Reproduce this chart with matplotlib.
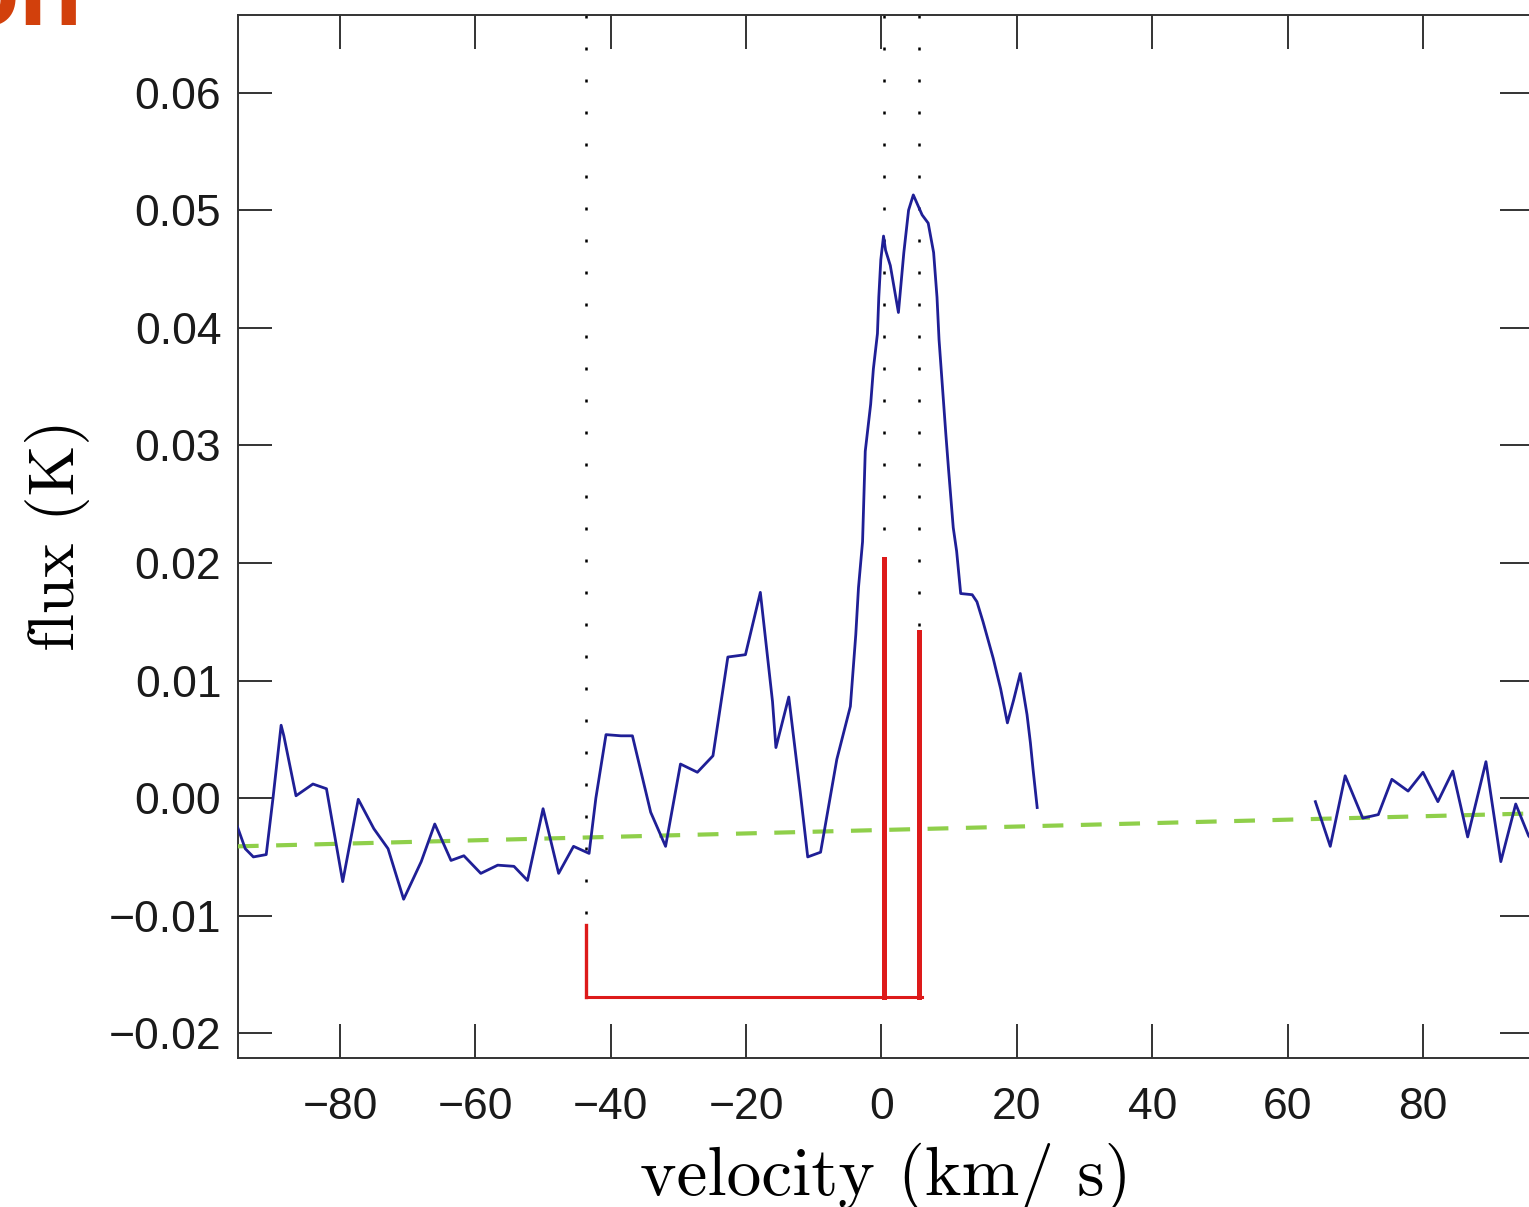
import numpy as np
from matplotlib import pyplot as plt

# spectrum, left part (velocity in km/s, flux in K)
vel_a = [-95.3, -94.0, -92.8, -90.9, -89.9, -88.7, -88.3, -86.5, -84.0, -82.0,
         -79.6, -77.3, -75.0, -72.9, -70.6, -68.0, -66.0, -63.6, -61.7, -59.2,
         -56.7, -54.3, -52.3, -50.0, -47.7, -45.5, -43.2, -42.2, -40.7, -38.5,
         -36.8, -34.1, -31.9, -29.7, -27.2, -24.9, -22.7, -20.1, -17.9, -16.1,
         -15.6, -13.7, -12.0, -10.9, -9.0, -6.6, -4.6, -3.8, -3.4, -2.8,
         -2.4, -1.6, -1.2, -0.6, -0.4, -0.1, 0.3, 0.6, 1.3, 2.5,
         3.3, 4.0, 4.7, 6.0, 6.9, 7.7, 8.2, 8.5, 9.0, 9.5,
         9.9, 10.6, 11.1, 11.7, 13.4, 14.1, 15.0, 16.5, 17.6, 18.6,
         19.5, 20.5, 21.5, 22.0, 22.4, 23.0]
flux_a = [-0.0022, -0.0043, -0.0050, -0.0048, 0.0000, 0.0062, 0.0053, 0.0002, 0.0012, 0.0008,
          -0.0071, -0.0001, -0.0026, -0.0043, -0.0086, -0.0054, -0.0022, -0.0053, -0.0049, -0.0064,
          -0.0057, -0.0058, -0.0070, -0.0009, -0.0064, -0.0041, -0.0047, 0.0000, 0.0054, 0.0053,
          0.0053, -0.0012, -0.0041, 0.0029, 0.0022, 0.0036, 0.0120, 0.0122, 0.0175, 0.0082,
          0.0043, 0.0086, 0.0005, -0.0050, -0.0046, 0.0033, 0.0078, 0.0139, 0.0179, 0.0218,
          0.0295, 0.0335, 0.0365, 0.0395, 0.0426, 0.0458, 0.0478, 0.0466, 0.0453, 0.0413,
          0.0464, 0.0500, 0.0513, 0.0496, 0.0489, 0.0464, 0.0426, 0.0390, 0.0350, 0.0310,
          0.0280, 0.0230, 0.0210, 0.0174, 0.0173, 0.0167, 0.0150, 0.0119, 0.0093, 0.0064,
          0.0083, 0.0106, 0.0071, 0.0047, 0.0024, -0.0008]

# spectrum, right part
vel_b = [64.1, 66.3, 68.5, 71.1, 73.4, 75.4, 77.8, 80.0, 82.2, 84.4,
         86.6, 89.3, 91.5, 93.7, 95.6, 97.5]
flux_b = [-0.0003, -0.0041, 0.0019, -0.0017, -0.0014, 0.0016, 0.0006, 0.0022, -0.0003, 0.0023,
          -0.0033, 0.0031, -0.0054, -0.0005, -0.0032, -0.0045]

# baseline
base_vel = [-95.1, 96.4]
base_flux = [-0.0041, -0.0013]

# line markers
line_vel = [-43.65, 0.3, 5.54]
line_top = [-0.0108, 0.0203, 0.0141]
line_bottom = -0.0169

xticks = [-80, -60, -40, -20, 0, 20, 40, 60, 80]
yticks = [-0.02, -0.01, 0.00, 0.01, 0.02, 0.03, 0.04, 0.05, 0.06]

fig = plt.figure(figsize=(15.29, 12.07), dpi=100)
ax = fig.add_axes([238 / 1529, 1 - 1058 / 1207, 1296 / 1529, 1043 / 1207])

ax.plot(base_vel, base_flux, color='#8fcf4a', lw=3.0, linestyle=(0, (5, 4.2)), zorder=3)
ax.plot(vel_a, flux_a, color='#1f1f96', lw=2.0, zorder=4)
ax.plot(vel_b, flux_b, color='#1f1f96', lw=2.0, zorder=4)

ymax = 0.0666
for v, top in zip(line_vel, line_top):
    ax.plot([v, v], [ymax, top], color='black', lw=1.8, linestyle=(0, (1.2, 11.6)), zorder=2)
ax.plot([line_vel[0], line_vel[0]], [line_bottom, line_top[0]], color='#dd1a1a', lw=2.4, zorder=5)
for v, top in zip(line_vel[1:], line_top[1:]):
    ax.plot([v, v], [line_bottom, top], color='#dd1a1a', lw=3.6, zorder=5)
ax.plot([line_vel[0], line_vel[-1] + 0.5], [line_bottom, line_bottom], color='#dd1a1a', lw=2.2, zorder=5)

ax.set_xlim(-95.07, 96.4)
ax.set_ylim(-0.0221, ymax)
ax.set_xticks(xticks)
ax.set_yticks(yticks)
ax.set_xticklabels([str(t).replace('-', '\u2212') for t in xticks])
ax.set_yticklabels([f'{t:.2f}'.replace('-', '\u2212') for t in yticks])
ax.tick_params(direction='in', length=24.5, width=1.4, color='#333333',
               top=True, right=True, labelsize=32, labelcolor='#1a1a1a')
ax.tick_params(axis='x', pad=21)
ax.tick_params(axis='y', pad=12)
for lab in ax.get_xticklabels() + ax.get_yticklabels():
    lab.set_family('Liberation Sans')
for sp in ax.spines.values():
    sp.set_linewidth(1.4)
    sp.set_color('#333333')

ax.set_xlabel('velocity (km/ s)', family='cmr10', fontsize=50, va='baseline')
ax.xaxis.set_label_coords(0.5, -137 / 1043)
ax.set_ylabel('flux (K)', family='cmr10', fontsize=47, va='baseline')
ax.yaxis.set_label_coords(-164 / 1296, 0.5014)

fig.text(83 / 1529, 1 - 25 / 1207, 'on', ha='right', va='baseline', fontsize=75,
         weight='bold', color='#d2400c', family='Liberation Sans')

fig.savefig('out.png', dpi=100)
